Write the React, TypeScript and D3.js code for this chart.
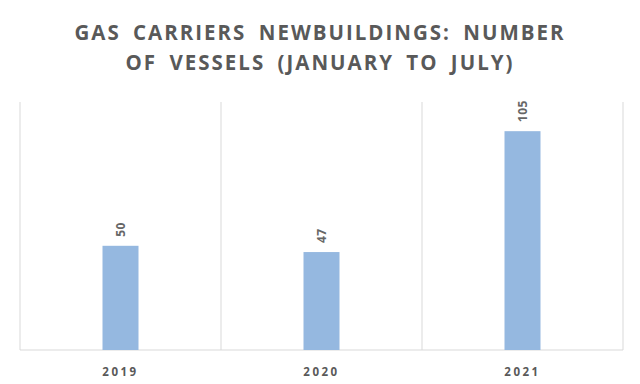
import React, { useEffect, useRef } from "react";
import * as d3 from "d3";

const years = ["2019", "2020", "2021"];
const vessels = [50, 47, 105];
const titleLines = ["GAS CARRIERS NEWBUILDINGS: NUMBER", "OF VESSELS (JANUARY TO JULY)"];

export default function App() {
  const ref = useRef<SVGSVGElement>(null);

  useEffect(() => {
    const width = 640, height = 384;
    const m = { top: 102, right: 17, bottom: 34, left: 20 };
    const svg = d3.select(ref.current);
    svg.selectAll("*").remove();

    svg.append("rect").attr("width", width).attr("height", height).attr("fill", "#fff");

    // title
    svg.append("g").selectAll("text")
      .data(titleLines)
      .enter().append("text")
      .attr("x", width / 2)
      .attr("y", (d, i) => 40 + i * 30)
      .attr("text-anchor", "middle")
      .attr("font-family", "'Open Sans', sans-serif")
      .attr("font-weight", "bold")
      .attr("font-size", 20.5)
      .attr("letter-spacing", 2)
      .attr("word-spacing", 5)
      .attr("fill", "#595959")
      .text(d => d);

    const x = d3.scaleBand().domain(years).range([m.left, width - m.right]);
    const y = d3.scaleLinear().domain([0, 119]).range([height - m.bottom, m.top]);

    const g = svg.append("g");

    // vertical separators
    const bounds = [m.left, ...years.map(d => x(d)! + x.bandwidth())];
    g.selectAll("line.sep")
      .data(bounds)
      .enter().append("line")
      .attr("x1", d => d).attr("x2", d => d)
      .attr("y1", m.top).attr("y2", height - m.bottom)
      .attr("stroke", "#d9d9d9").attr("stroke-width", 1);

    // baseline
    g.append("line")
      .attr("x1", m.left).attr("x2", width - m.right)
      .attr("y1", y(0)).attr("y2", y(0))
      .attr("stroke", "#d9d9d9").attr("stroke-width", 1);

    const barW = 36;
    g.selectAll("rect.bar")
      .data(vessels)
      .enter().append("rect")
      .attr("x", (d, i) => x(years[i])! + x.bandwidth() / 2 - barW / 2)
      .attr("y", d => y(d))
      .attr("width", barW)
      .attr("height", d => y(0) - y(d))
      .attr("fill", "#95b8e0");

    // value labels
    g.selectAll("text.val")
      .data(vessels)
      .enter().append("text")
      .attr("transform", (d, i) =>
        `translate(${x(years[i])! + x.bandwidth() / 2 + 4.5},${y(d) - 9}) rotate(-90)`)
      .attr("font-family", "'Open Sans', sans-serif")
      .attr("font-weight", "bold")
      .attr("font-size", 12)
      .attr("letter-spacing", 0.5)
      .attr("fill", "#666")
      .text(d => d);

    // category labels
    g.selectAll("text.cat")
      .data(years)
      .enter().append("text")
      .attr("x", d => x(d)! + x.bandwidth() / 2)
      .attr("y", height - m.bottom + 26)
      .attr("text-anchor", "middle")
      .attr("font-family", "'Open Sans', sans-serif")
      .attr("font-weight", "bold")
      .attr("font-size", 11.5)
      .attr("letter-spacing", 2.5)
      .attr("fill", "#595959")
      .text(d => d);
  }, []);

  return (
    <svg ref={ref} width={640} height={384}
      style={{ position: "absolute", left: 0, top: 0, display: "block" }} />
  );
}
